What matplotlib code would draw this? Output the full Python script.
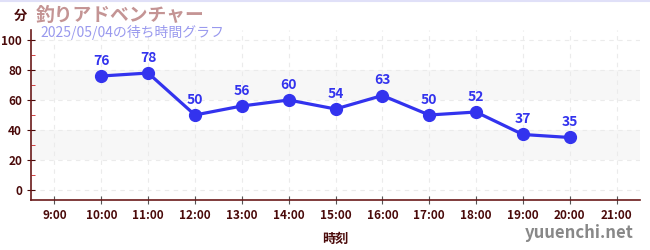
import numpy as np
import matplotlib.pyplot as plt

plt.rcParams['font.family'] = ['Noto Sans CJK JP', 'DejaVu Sans']

hours = [10, 11, 12, 13, 14, 15, 16, 17, 18, 19, 20]
waits = [76, 78, 50, 56, 60, 54, 63, 50, 52, 37, 35]
tick_hours = list(range(9, 22))
tick_labels = ['%d:00' % h for h in tick_hours]

DARK = '#4a0a0a'
BLUE = '#3333ee'

fig = plt.figure(figsize=(6.5, 2.5), dpi=100)
ax = fig.add_axes([31 / 650, 50 / 250, 609 / 650, 170 / 250])

ax.set_xlim(8.5, 21.5)
ax.set_ylim(-6.7, 106.7)

# background bands
for lo, hi in [(20, 40), (60, 80)]:
    ax.axhspan(lo, hi, color='#f7f7f7', zorder=0, lw=0)

ax.grid(True, which='major', color='#ebebeb', linestyle=(0, (4, 4)), lw=0.8, zorder=0)

ax.plot(hours, waits, color=BLUE, lw=2.3, marker='o', ms=8.5, zorder=3)
for h, w in zip(hours, waits):
    ax.annotate(str(w), (h, w), xytext=(0, 6), textcoords='offset points',
                ha='center', va='bottom', color=BLUE, fontsize=10, fontweight='bold')

ax.set_xticks(tick_hours)
ax.set_xticklabels(tick_labels)
ax.set_yticks(range(0, 101, 20))
ax.set_yticks(range(10, 100, 20), minor=True)
ax.tick_params(axis='both', which='major', colors=DARK, labelsize=8.5, direction='inout', length=6)
ax.tick_params(axis='x', which='major', color='#555555')
ax.tick_params(axis='y', which='minor', colors='#cc2222', length=3, direction='in')
for lab in ax.get_xticklabels() + ax.get_yticklabels():
    lab.set_fontweight('bold')

for s in ['top', 'right']:
    ax.spines[s].set_visible(False)
ax.spines['left'].set_color('#6a1a1a')
ax.spines['bottom'].set_color('#6a1a1a')
ax.spines['left'].set_linewidth(1.2)
ax.spines['bottom'].set_linewidth(1.2)

ax.set_xlabel('時刻', color=DARK, fontsize=9.5, fontweight='bold', labelpad=7)

fig.text(14 / 650, 1 - 16 / 250, '分', color=DARK, fontsize=9.5, fontweight='bold', va='center')
fig.text(36 / 650, 1 - 15 / 250, '釣りアドベンチャー', color='#c49494', fontsize=13.5, fontweight='bold', va='center')
fig.text(40 / 650, 1 - 32 / 250, '2025/05/04の待ち時間グラフ', color='#9999ee', fontsize=10, va='center')
fig.text(634 / 650, 1 - 233 / 250, 'yuuenchi.net', color='#888888', fontsize=12, fontweight='bold',
         ha='right', va='center')
fig.add_artist(plt.Line2D([0, 1], [0.998, 0.998], color='#e0e0f8', lw=1.5))

plt.savefig('out.png', dpi=100)
